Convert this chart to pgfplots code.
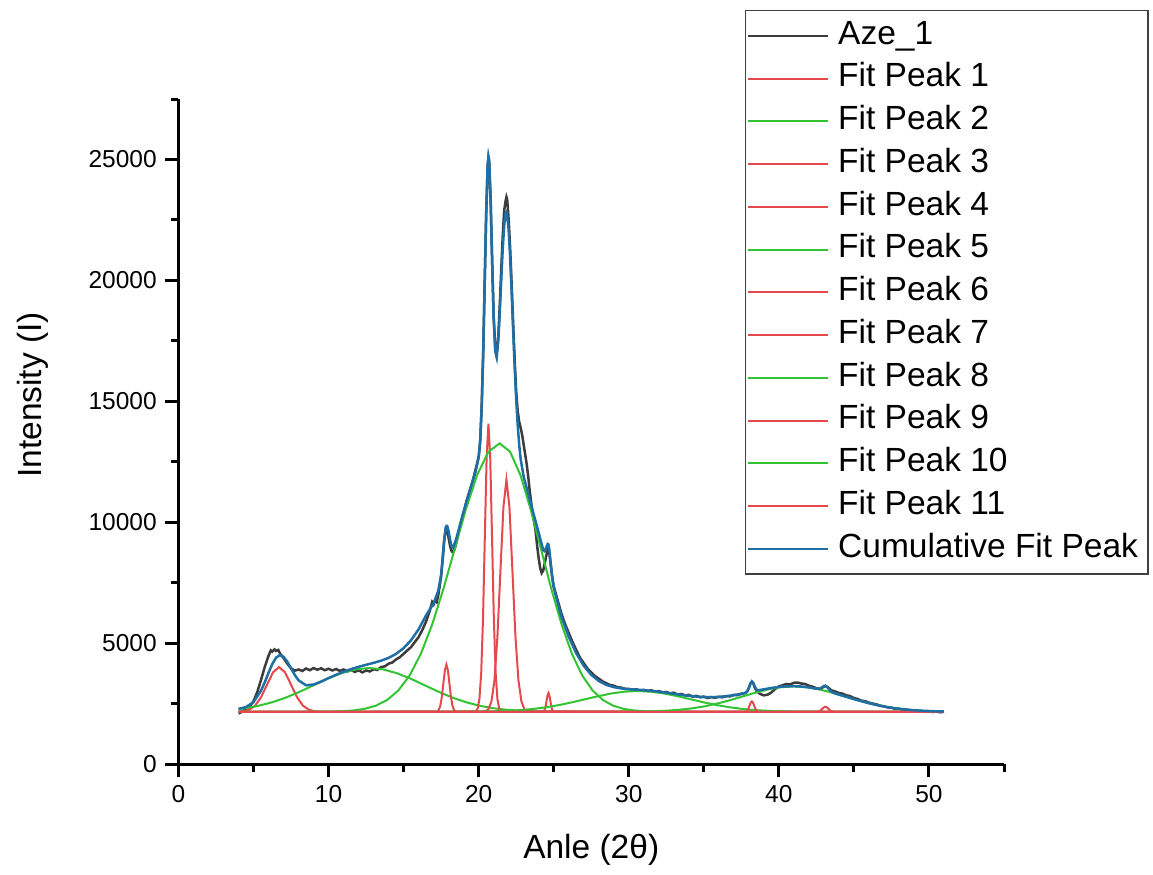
\documentclass[border=0pt]{standalone}
\usepackage{fontspec}
\setmainfont{Liberation Sans}
\usepackage{pgfplots}
\pgfplotsset{compat=1.18}
\definecolor{dataline}{HTML}{3C3C3C}
\definecolor{fitred}{HTML}{E5484D}
\definecolor{fitgreen}{HTML}{33C433}
\definecolor{cumblue}{HTML}{1F6FA6}
\begin{document}
\begin{tikzpicture}
\begin{axis}[
    scale only axis,
    width=330.2pt, height=266pt,
    xmin=0, xmax=55, ymin=0, ymax=27500,
    axis lines*=left,
    axis line style={line width=1.2pt, black},
    tick align=outside,
    major tick length=5.2pt, minor tick length=3pt,
    every tick/.style={black, line width=1.2pt},
    xtick={0,10,20,30,40,50}, minor xtick={5,15,25,35,45,55},
    ytick={0,5000,10000,15000,20000,25000},
    minor ytick={2500,7500,12500,17500,22500,27500},
    xticklabels={0,10,20,30,40,50},
    yticklabels={0,5000,10000,15000,20000,25000},
    scaled y ticks=false, scaled x ticks=false,
    tick label style={font=\fontsize{9.8}{11}\selectfont, text=black},
    /pgf/number format/assume math mode=true,
    xlabel={Anle (2θ)}, ylabel={Intensity (I)},
    every axis x label/.style={at={(axis description cs:0.5,-0.129)}, anchor=center,
        font=\fontsize{13.4}{15}\selectfont},
    every axis y label/.style={at={(axis description cs:-0.176,0.555)}, rotate=90, anchor=center,
        font=\fontsize{13.4}{15}\selectfont},
    every axis plot/.append style={no markers},
    clip=false,
    legend style={
        at={(axis description cs:1.1756,1.134)}, anchor=north east,
        draw=black!75, line width=0.6pt, fill=white,
        font=\fontsize{13.4}{15}\selectfont,
        inner xsep=0.6pt, inner ysep=1.5pt,
        row sep=0pt,
        nodes={inner xsep=3.5pt, inner ysep=2.3pt, text height=9.6pt, text depth=2.9pt, anchor=west},
    },
    legend cell align=left,
    legend image code/.code={\draw[#1] (-1pt,0pt) -- (31pt,0pt);},
]
% measured pattern Aze_1
\addplot[dataline, line width=1pt] coordinates {
(4.0,2090)(4.25,2170)(4.5,2280)(4.75,2390)(5.0,2600)(5.25,2980)(5.5,3480)(5.75,4020)
(6.0,4480)(6.15,4700)(6.25,4650)(6.4,4740)(6.5,4680)(6.65,4720)(6.75,4590)(7.0,4380)
(7.25,4150)(7.5,3960)(7.75,3860)(8.0,3910)(8.25,3850)(8.5,3950)(8.75,3880)(9.0,3970)
(9.25,3900)(9.5,3960)(9.75,3880)(10.0,3940)(10.25,3870)(10.5,3930)(10.75,3850)(11.0,3910)
(11.25,3830)(11.5,3890)(11.75,3810)(12.0,3880)(12.25,3790)(12.5,3870)(12.75,3830)(13.0,3920)
(13.25,3890)(13.5,4010)(13.75,4040)(14.0,4150)(14.25,4200)(14.5,4330)(14.75,4420)(15.0,4560)
(15.25,4700)(15.5,4840)(15.75,5050)(16.0,5250)(16.25,5550)(16.5,5900)(16.75,6350)(16.9,6700)
(17.0,6600)(17.1,6780)(17.2,6700)(17.3,6950)(17.4,7350)(17.5,7800)(17.6,8500)(17.7,9250)
(17.8,9700)(17.9,9650)(18.0,9350)(18.1,9000)(18.2,8800)(18.3,8750)(18.4,8900)(18.5,9100)
(18.7,9700)(18.9,10200)(19.0,10400)(19.2,10900)(19.4,11300)(19.6,11700)(19.8,12200)(20.0,12700)
(20.1,13300)(20.2,14800)(20.3,17000)(20.4,19900)(20.5,22700)(20.6,24700)(20.65,25050)(20.7,24900)
(20.8,23200)(20.9,20700)(21.0,18500)(21.1,17300)(21.2,17050)(21.3,17600)(21.4,18900)(21.5,20400)
(21.6,21800)(21.7,22900)(21.8,23300)(21.85,23450)(21.9,23350)(22.0,22500)(22.1,21300)(22.2,19800)
(22.3,18200)(22.4,16700)(22.5,15400)(22.6,14600)(22.7,14150)(22.8,13900)(22.9,13600)(23.0,13200)
(23.1,12800)(23.2,12400)(23.3,11900)(23.4,11300)(23.5,10800)(23.6,10350)(23.7,10000)(23.8,9600)
(23.9,9000)(24.0,8500)(24.1,8100)(24.2,7900)(24.3,8000)(24.4,8300)(24.5,8600)(24.6,8850)
(24.7,8750)(24.8,8250)(24.9,7750)(25.0,7350)(25.25,6800)(25.5,6250)(25.75,5800)(26.0,5420)
(26.25,5050)(26.5,4720)(26.75,4400)(27.0,4170)(27.25,3950)(27.5,3790)(27.75,3640)(28.0,3530)
(28.25,3420)(28.5,3340)(28.75,3270)(29.0,3240)(29.25,3180)(29.5,3160)(29.75,3110)(30.0,3110)
(30.25,3060)(30.5,3090)(30.75,3040)(31.0,3070)(31.25,3020)(31.5,3050)(31.75,2990)(32.0,3020)
(32.25,2960)(32.5,2980)(32.75,2920)(33.0,2950)(33.25,2870)(33.5,2900)(33.75,2840)(34.0,2860)
(34.25,2790)(34.5,2820)(34.75,2760)(35.0,2790)(35.25,2730)(35.5,2770)(35.75,2740)(36.0,2780)
(36.25,2760)(36.5,2810)(36.75,2800)(37.0,2860)(37.25,2850)(37.5,2910)(37.75,2930)(37.9,3010)
(38.0,3150)(38.1,3320)(38.2,3400)(38.3,3330)(38.4,3150)(38.5,3030)(38.75,2900)(39.0,2840)
(39.25,2870)(39.5,2960)(39.75,3100)(40.0,3210)(40.25,3260)(40.5,3310)(40.75,3290)(41.0,3360)
(41.25,3370)(41.5,3330)(41.75,3310)(42.0,3240)(42.25,3200)(42.5,3130)(42.75,3100)(43.0,3200)
(43.1,3230)(43.25,3180)(43.5,3050)(43.75,3000)(44.0,2940)(44.25,2910)(44.5,2840)(44.75,2810)
(45.0,2730)(45.25,2690)(45.5,2620)(45.75,2600)(46.0,2540)(46.25,2500)(46.5,2470)(46.75,2410)
(47.0,2390)(47.25,2340)(47.5,2330)(47.75,2280)(48.0,2290)(48.25,2240)(48.5,2250)(48.75,2200)
(49.0,2220)(49.25,2180)(49.5,2190)(49.75,2160)(50.0,2180)(50.25,2150)(50.5,2170)(50.75,2140)
(51.0,2160)
};
\addlegendentry{Aze\_1}
% fit peak 1
\addplot[fitred, line width=0.8pt] coordinates {
(4,2166)(4.3,2181)(4.7,2241)(5.1,2410)(5.5,2761)(5.9,3282)(6.3,3793)(6.7,4010)(7.1,3793)
(7.5,3282)(7.9,2761)(8.3,2410)(8.7,2241)(9.1,2181)(9.5,2164)(10,2160)(51,2160)
};
\addlegendentry{Fit Peak 1}
% fit peak 2
\addplot[fitgreen, line width=0.8pt] coordinates {
(4,2274)(4.38,2304)(5.3,2405)(6.23,2552)(7.15,2748)(8.08,2989)(9,3258)(9.93,3526)(10.85,3757)
(11.78,3914)(12.7,3970)(13.63,3914)(14.55,3757)(15.48,3526)(16.4,3258)(17.33,2989)(18.25,2748)
(19.18,2552)(20.1,2405)(21.03,2304)(21.95,2239)(22.88,2201)(23.8,2180)(24.73,2169)(25.65,2164)
(27,2160)(51,2160)
};
\addlegendentry{Fit Peak 2}
% fit peak 3
\addplot[fitred, line width=0.8pt] coordinates {
(4,2160)(17.15,2164)(17.25,2182)(17.35,2246)(17.45,2424)(17.55,2793)(17.65,3343)(17.75,3881)
(17.85,4110)(17.95,3881)(18.05,3343)(18.15,2793)(18.25,2424)(18.35,2246)(18.45,2182)(18.55,2164)
(51,2160)
};
\addlegendentry{Fit Peak 3}
% fit peak 4
\addplot[fitred, line width=0.8pt] coordinates {
(4,2160)(19.69,2164)(19.81,2186)(19.93,2292)(20.05,2683)(20.17,3773)(20.29,6030)(20.41,9389)
(20.53,12679)(20.65,14080)(20.77,12679)(20.89,9389)(21.01,6030)(21.13,3773)(21.25,2683)
(21.37,2292)(21.49,2186)(21.61,2164)(51,2160)
};
\addlegendentry{Fit Peak 4}
% fit peak 5
\addplot[fitgreen, line width=0.8pt] coordinates {
(4,2160)(9.4,2163)(10.15,2170)(10.9,2184)(11.65,2217)(12.4,2283)(13.15,2413)(13.9,2647)
(14.65,3044)(15.4,3662)(16.15,4561)(16.9,5764)(17.65,7242)(18.4,8892)(19.15,10538)(19.9,11956)
(20.65,12918)(21.4,13260)(22.09,12918)(22.78,11956)(23.46,10538)(24.15,8892)(24.84,7242)
(25.53,5764)(26.21,4561)(26.9,3662)(27.59,3044)(28.28,2647)(28.96,2413)(29.65,2283)(30.34,2217)
(31.03,2184)(31.71,2170)(32.4,2163)(51,2160)
};
\addlegendentry{Fit Peak 5}
% fit peak 6
\addplot[fitred, line width=0.8pt] coordinates {
(4,2160)(20.25,2163)(20.45,2181)(20.65,2267)(20.85,2581)(21.05,3459)(21.25,5277)(21.45,7982)
(21.65,10632)(21.85,11760)(22.05,10632)(22.25,7982)(22.45,5277)(22.65,3459)(22.85,2581)
(23.05,2267)(23.25,2181)(23.45,2163)(51,2160)
};
\addlegendentry{Fit Peak 6}
% fit peak 7
\addplot[fitred, line width=0.8pt] coordinates {
(4,2160)(24.23,2162)(24.29,2169)(24.35,2194)(24.41,2266)(24.47,2413)(24.53,2633)(24.59,2848)
(24.65,2940)(24.71,2848)(24.77,2633)(24.83,2413)(24.89,2266)(24.95,2194)(25.01,2169)(25.07,2162)
(51,2160)
};
\addlegendentry{Fit Peak 7}
% fit peak 8
\addplot[fitgreen, line width=0.8pt] coordinates {
(4,2160)(18.35,2162)(19.23,2164)(20.1,2170)(20.98,2180)(21.85,2198)(22.73,2228)(23.6,2276)
(24.48,2346)(25.35,2439)(26.23,2554)(27.1,2682)(27.98,2809)(28.85,2919)(29.73,2994)(30.6,3020)
(31.48,2994)(32.35,2919)(33.23,2809)(34.1,2682)(34.98,2554)(35.85,2439)(36.73,2346)(37.6,2276)
(38.48,2228)(39.35,2198)(40.23,2180)(41.1,2170)(41.98,2164)(42.85,2162)(51,2160)
};
\addlegendentry{Fit Peak 8}
% fit peak 9
\addplot[fitred, line width=0.8pt] coordinates {
(4,2160)(37.675,2161)(37.75,2165)(37.825,2179)(37.9,2218)(37.975,2300)(38.05,2421)(38.125,2539)
(38.2,2590)(38.275,2539)(38.35,2421)(38.425,2300)(38.5,2218)(38.575,2179)(38.65,2165)(38.725,2161)
(51,2160)
};
\addlegendentry{Fit Peak 9}
% fit peak 10
\addplot[fitgreen, line width=0.8pt] coordinates {
(4,2160)(29.1,2162)(29.95,2165)(30.8,2172)(31.65,2184)(32.5,2206)(33.35,2244)(34.2,2302)
(35.05,2387)(35.9,2501)(36.75,2641)(37.6,2797)(38.45,2953)(39.3,3087)(40.15,3178)(41,3210)
(41.85,3178)(42.7,3087)(43.55,2953)(44.4,2797)(45.25,2641)(46.1,2501)(46.95,2387)(47.8,2302)
(48.65,2244)(49.5,2206)(50.35,2184)(51,2174)
};
\addlegendentry{Fit Peak 10}
% fit peak 11
\addplot[fitred, line width=0.8pt] coordinates {
(4,2160)(42.5,2162)(42.6,2169)(42.7,2188)(42.8,2228)(42.9,2287)(43,2345)(43.1,2370)(43.2,2345)
(43.3,2287)(43.4,2228)(43.5,2188)(43.6,2169)(43.7,2162)(51,2160)
};
\addlegendentry{Fit Peak 11}
% cumulative fit
\addplot[cumblue, line width=1pt] coordinates {
(4,2280)(4.5,2357)(5,2562)(5.5,3034)(5.75,3384)(6,3773)(6.25,4136)(6.5,4398)(6.75,4503)
(7,4436)(7.25,4233)(7.5,3956)(7.75,3682)(8,3462)(8.5,3257)(9,3288)(9.5,3409)(10,3555)
(10.5,3692)(11,3816)(11.5,3925)(12,4020)(12.5,4103)(13,4184)(13.5,4275)(14,4391)(14.5,4557)
(15,4792)(15.5,5124)(16,5574)(16.5,6152)(17,6650)(17.3,7150)(17.5,7800)(17.6,8450)(17.7,9200)
(17.8,9750)(17.85,9850)(17.9,9850)(18,9620)(18.1,9260)(18.2,9000)(18.3,8950)(18.5,9300)
(19,10450)(19.5,11500)(19.8,12100)(20,12690)(20.1,13380)(20.2,14700)(20.3,16890)(20.4,19820)
(20.5,22820)(20.6,24810)(20.65,25140)(20.7,24970)(20.8,23330)(20.9,20780)(21,18445)(21.1,17075)
(21.2,16815)(21.3,17440)(21.4,18595)(21.5,19960)(21.6,21270)(21.7,22270)(21.8,22790)
(21.85,22835)(21.9,22720)(22,22065)(22.1,20920)(22.2,19460)(22.3,17895)(22.4,16395)(22.5,15080)
(22.6,14020)(22.7,13200)(22.8,12600)(23,11880)(23.5,10700)(24,9560)(24.3,8850)(24.4,8800)
(24.5,8950)(24.6,9100)(24.65,9080)(24.7,8900)(24.8,8300)(24.9,7700)(25,7300)(25.5,6109)
(26,5265)(26.5,4580)(27,4063)(27.5,3689)(28,3436)(28.5,3274)(29,3180)(29.5,3127)(30,3096)
(30.5,3076)(31,3053)(31.5,3026)(32,2993)(32.5,2951)(33,2906)(33.5,2862)(34,2823)(34.5,2791)
(35,2771)(35.5,2767)(36,2777)(36.5,2805)(37,2848)(37.5,2901)(37.7,2928)(37.8,2950)(37.9,3009)
(38,3140)(38.1,3321)(38.2,3419)(38.3,3347)(38.4,3193)(38.5,3086)(38.6,3053)(38.8,3067)
(39,3091)(39.5,3146)(40,3189)(40.5,3215)(41,3220)(41.5,3206)(42,3170)(42.5,3117)(42.7,3117)
(42.8,3141)(42.9,3185)(43,3228)(43.1,3238)(43.2,3197)(43.3,3122)(43.4,3046)(43.5,2989)
(43.7,2928)(44,2871)(44.5,2778)(45,2686)(45.5,2597)(46,2516)(46.5,2444)(47,2381)(47.5,2329)
(48,2286)(48.5,2252)(49,2226)(49.5,2206)(50,2192)(50.5,2181)(51,2174)
};
\addlegendentry{Cumulative Fit Peak}
% page frame matching the reference margins
\path (rel axis cs:-0.2162,-0.1654) rectangle (rel axis cs:1.1805,1.1489);
\end{axis}
\end{tikzpicture}
\end{document}
